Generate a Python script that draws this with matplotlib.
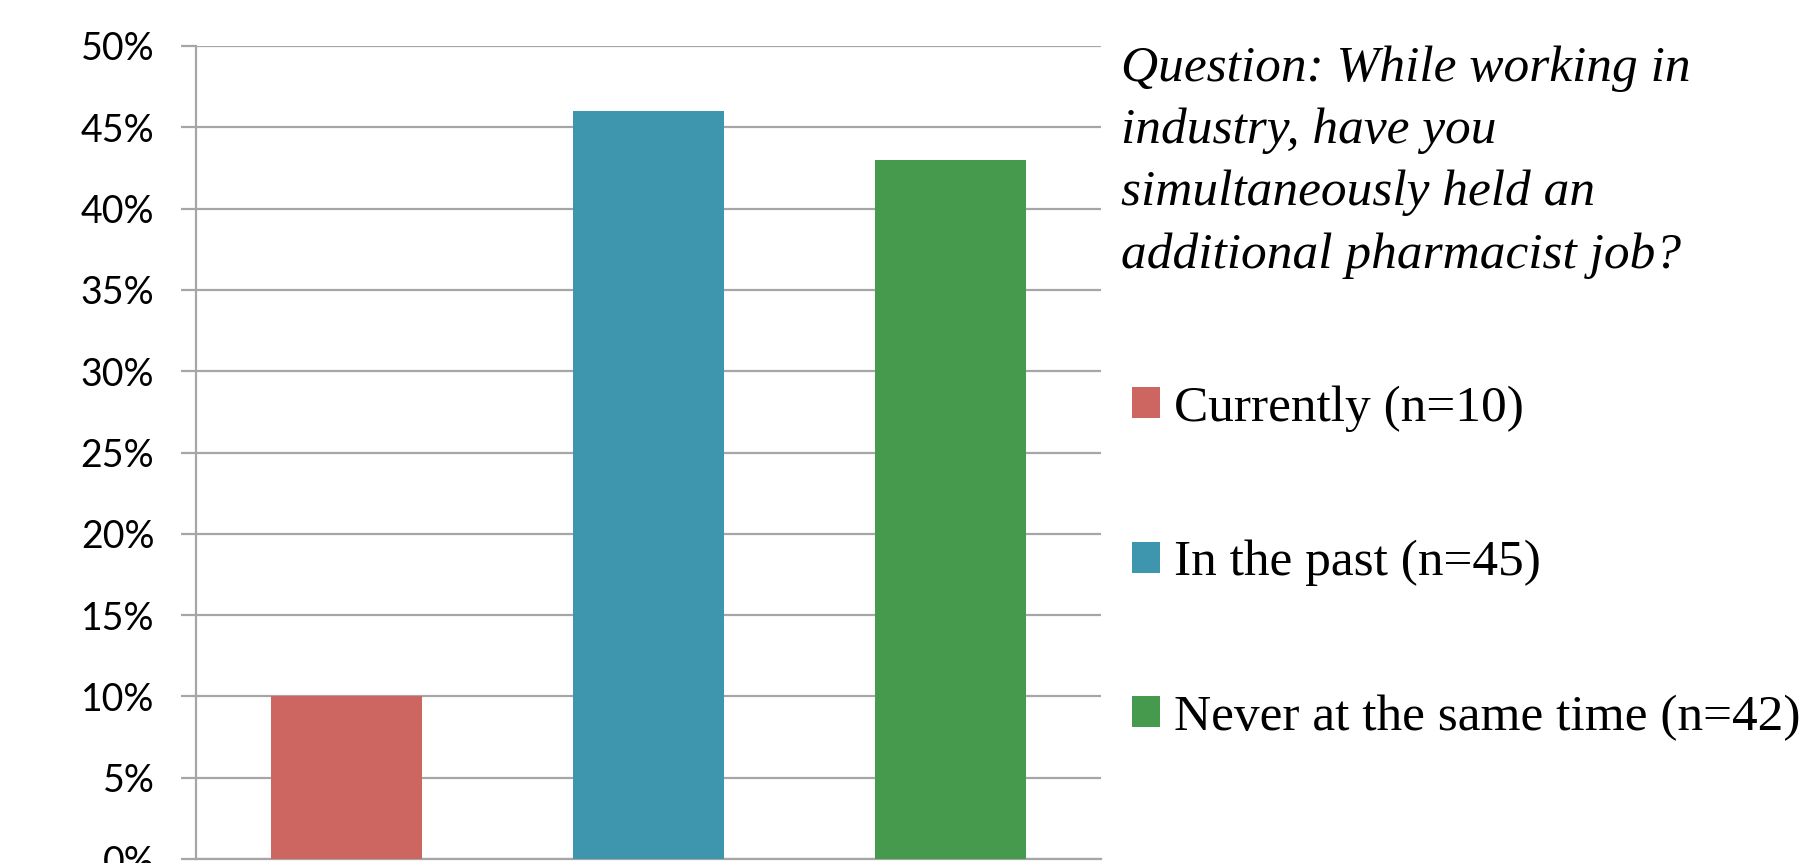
import numpy as np
import matplotlib.pyplot as plt
from matplotlib.ticker import PercentFormatter

# survey answers (share of respondents)
categories = ['Currently (n=10)', 'In the past (n=45)', 'Never at the same time (n=42)']
shares = [10, 46, 43]
colors = ['#CD6660', '#3D96AE', '#469A4D']
yticks = np.arange(0, 51, 5)
question = ('Question: While working in\nindustry, have you\n'
            'simultaneously held an\nadditional pharmacist job?')

fig = plt.figure(figsize=(18.08, 8.63), dpi=100, facecolor='w')
ax = fig.add_axes([0.1084, 0.0046, 0.5006, 0.9421], facecolor='none')

x = np.arange(len(categories))
bars = ax.bar(x, shares, width=0.5, color=colors, zorder=3, label=None)

ax.set_xlim(-0.5, len(categories) - 0.5)
ax.set_ylim(0, 50)
ax.set_yticks(yticks)
ax.yaxis.set_major_formatter(PercentFormatter(decimals=0))
ax.set_xticks([])
ax.grid(axis='y', color='#A6A6A6', lw=1.6, zorder=0)
ax.tick_params(axis='y', length=11, width=1.6, color='#A6A6A6', pad=19,
               labelsize=27, labelcolor='black')
for lab in ax.get_yticklabels():
    lab.set_family('Lato')
for s in ('top', 'right'):
    ax.spines[s].set_visible(False)
ax.spines['left'].set_color('#A6A6A6')
ax.spines['left'].set_linewidth(1.6)
ax.spines['bottom'].set_color('#A6A6A6')
ax.spines['bottom'].set_linewidth(1.6)

fig.text(0.620, 0.947, question, family='Liberation Serif', style='italic',
         fontsize=37, va='top', ha='left', linespacing=1.44)

leg = fig.legend(bars, categories, loc='center left', bbox_to_anchor=(0.626, 0.3476),
                 frameon=False, borderpad=0, borderaxespad=0,
                 handlelength=0.55, handleheight=0.55, handletextpad=0.27,
                 labelspacing=2.1, prop={'family': 'Liberation Serif', 'size': 37})

fig.savefig('out.png', dpi=100, facecolor='w')
